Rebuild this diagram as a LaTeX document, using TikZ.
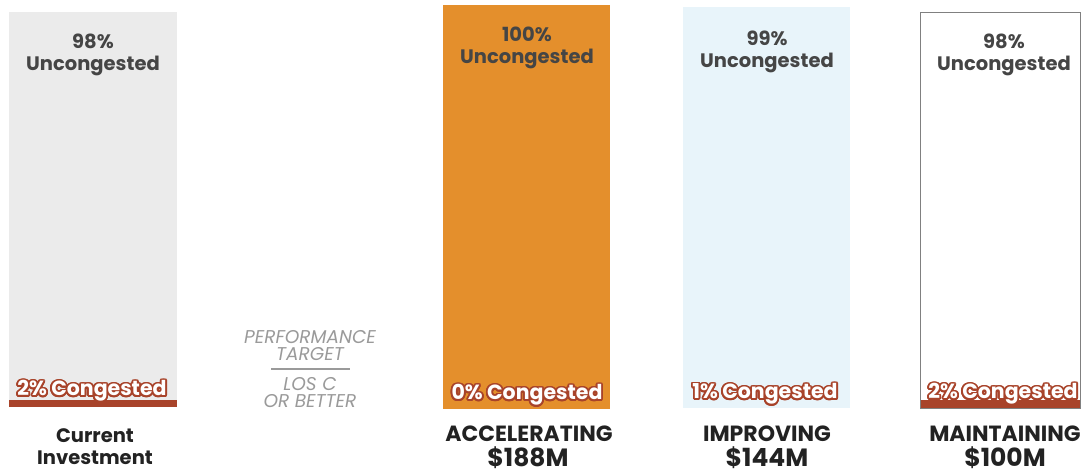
\documentclass[tikz,border=0pt]{standalone}
\usepackage{fontspec}
\setmainfont{Poppins}
\usepackage{contour}
\contourlength{1.8pt}
\contournumber{20}

\definecolor{barGray}{HTML}{EBEBEB}
\definecolor{barOrange}{HTML}{E48F2C}
\definecolor{barBlue}{HTML}{E8F4FA}
\definecolor{congRed}{HTML}{A8432A}
\definecolor{textDark}{HTML}{454545}
\definecolor{nameDark}{HTML}{222222}
\definecolor{targetGray}{HTML}{9A9A9A}

\tikzset{
  pct/.style={align=center, text=textDark, font=\fontsize{19.5}{22}\selectfont\bfseries, inner sep=0pt},
  cong/.style={text=white, font=\fontsize{20.5}{22}\selectfont\bfseries, inner sep=0pt},
  scen/.style={text=nameDark, font=\fontsize{22}{22}\selectfont\bfseries, inner sep=0pt, anchor=base},
  amount/.style={text=nameDark, font=\fontsize{25}{30}\selectfont\bfseries, inner sep=0pt, anchor=base},
  target/.style={align=center, text=targetGray, font=\fontsize{18.5}{17}\selectfont\itshape, inner sep=0pt}
}

\begin{document}
\begin{tikzpicture}[x=1pt, y=-1pt]
    \useasboundingbox (0,0) rectangle (1081,473);

    % Current investment: 98% / 2%
    \fill[barGray] (9,12) rectangle (177,407);
    \fill[congRed] (9,400) rectangle (177,407);
    \node[pct] (curtop) at (93,55) {98\%\\Uncongested};
    \node[cong] (curcong) at (92,392) {\contour{congRed}{2\% Congested}};
    \node[scen, anchor=center, align=center, font=\fontsize{19.5}{22}\selectfont\bfseries] (curname) at (95,447) {Current\\Investment};

    % Performance target
    \node[target] (target) at (310,346) {PERFORMANCE\\TARGET};
    \node[target] (los) at (310,393) {LOS C\\OR BETTER};
    \draw[targetGray, line width=1.5pt] (271,369) -- (350,369);

    % Accelerating: 100% / 0%
    \fill[barOrange] (443,5) rectangle (610,409);
    \node[pct] (acctop) at (527,48) {100\%\\Uncongested};
    \node[cong] (acccong) at (527,396) {\contour{congRed}{0\% Congested}};
    \node[scen] (accname) at (529,441) {ACCELERATING};
    \node[amount] (accamt) at (528,466) {\$188M};

    % Improving: 99% / 1%
    \fill[barBlue] (683,7) rectangle (850,408);
    \node[pct] (imptop) at (767,52) {99\%\\Uncongested};
    \node[cong] (impcong) at (765,395) {\contour{congRed}{1\% Congested}};
    \node[scen] (impname) at (767,441) {IMPROVING};
    \node[amount] (impamt) at (767,466) {\$144M};

    % Maintaining: 98% / 2%
    \fill[congRed] (920,400) rectangle (1081,408);
    \draw[gray, line width=1pt] (920.5,408) -- (920.5,12.5) -- (1080.5,12.5) -- (1080.5,408) -- cycle;
    \node[pct] (maintop) at (1004,55) {98\%\\Uncongested};
    \node[cong] (maincong) at (1003,395) {\contour{congRed}{2\% Congested}};
    \node[scen] (mainname) at (1005,441) {MAINTAINING};
    \node[amount] (mainamt) at (1005,466) {\$100M};
\end{tikzpicture}
\end{document}
